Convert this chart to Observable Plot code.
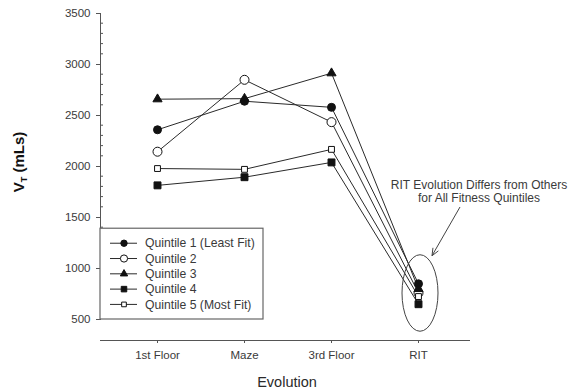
<!DOCTYPE html>
<html>
<head>
<meta charset="utf-8">
<script src="https://cdn.jsdelivr.net/npm/d3@7"></script>
<script src="https://cdn.jsdelivr.net/npm/@observablehq/plot@0.6"></script>
<style>
  html, body { margin: 0; padding: 0; background: #fff; }
  #chart svg { display: block; }
</style>
</head>
<body>
<div id="chart"></div>
<script>
// Tidal volume across the four stages of the evolution, by fitness quintile
const stages = ["1st Floor", "Maze", "3rd Floor", "RIT"];
const quintile1 = [2360, 2640, 2580, 850];
const quintile2 = [2145, 2850, 2435, 760];
const quintile3 = [2660, 2665, 2915, 800];
const quintile4 = [1815, 1895, 2040, 650];
const quintile5 = [1980, 1972, 2168, 725];

const seriesNames = [
  "Quintile 1 (Least Fit)",
  "Quintile 2",
  "Quintile 3",
  "Quintile 4",
  "Quintile 5 (Most Fit)"
];
const yMajorTicks = [500, 1000, 1500, 2000, 2500, 3000, 3500];
const yMinorTicks = d3.range(600, 3500, 100).filter(v => v % 500 !== 0);

const annotationLines = ["RIT Evolution Differs from Others", "for All Fitness Quintiles"];

// marker styling for each quintile
const markers = [
  {symbol: "circle",   fill: "#111", r: 4},
  {symbol: "circle",   fill: "#fff", r: 4.5},
  {symbol: "triangle", fill: "#111", r: 3.4},
  {symbol: "square",   fill: "#111", r: 3.9},
  {symbol: "square",   fill: "#fff", r: 3.3}
];

const seriesValues = [quintile1, quintile2, quintile3, quintile4, quintile5];
const series = seriesValues.map((vals, k) => ({
  name: seriesNames[k],
  style: markers[k],
  rows: stages.map((s, i) => ({stage: s, value: vals[i]}))
}));

const ink = "#3a3a3a";
const axisInk = "#555";
const font = "'Liberation Sans', Arial, Helvetica, sans-serif";

const plot = Plot.plot({
  width: 570,
  height: 392,
  marginLeft: 100,
  marginRight: 100,
  marginTop: 13,
  marginBottom: 73,
  style: {fontFamily: font, fontSize: "11.5px", color: ink, background: "#fff"},
  x: {type: "point", domain: stages, padding: 0.62, align: 0.52},
  y: {domain: [500, 3500]},
  marks: [
    Plot.frame({anchor: "left", stroke: axisInk}),
    Plot.axisY({ticks: yMajorTicks, tickSize: 4, tickPadding: 6, tickFormat: d3.format("d"), label: null, stroke: axisInk}),
    Plot.ruleY([500], {dy: 21, stroke: axisInk}),
    Plot.axisX({anchor: "bottom", dy: 21, tickSize: 3, tickPadding: 7, label: null, stroke: axisInk}),
    ...series.map(s => Plot.line(s.rows, {x: "stage", y: "value", stroke: "#2a2a2a", strokeWidth: 1})),
    ...series.map(s => Plot.dot(s.rows, {
      x: "stage", y: "value",
      symbol: s.style.symbol, r: s.style.r,
      fill: s.style.fill, stroke: "#111", strokeWidth: 1
    }))
  ]
});

document.getElementById("chart").appendChild(plot);

const svg = d3.select(plot);
const xs = plot.scale("x");
const ys = plot.scale("y");
const [x0, x1] = xs.range;

// minor y ticks, pointing into the plot
svg.append("g")
  .attr("stroke", axisInk)
  .selectAll("line")
  .data(yMinorTicks)
  .join("line")
  .attr("x1", x0).attr("x2", x0 + 3)
  .attr("y1", d => ys.apply(d)).attr("y2", d => ys.apply(d));

// y-axis title with subscript
const yTitle = svg.append("text")
  .attr("transform", `translate(24, ${ys.apply(2000) - 4}) rotate(-90)`)
  .attr("text-anchor", "middle")
  .attr("font-family", font)
  .attr("font-weight", "bold")
  .attr("font-size", 15)
  .attr("fill", "#111");
yTitle.append("tspan").text("V");
yTitle.append("tspan").attr("font-size", 9).attr("dy", 3).text("T");
yTitle.append("tspan").attr("dy", -3).text(" (mLs)");

// x-axis title
svg.append("text")
  .attr("x", (x0 + x1) / 2 + 2)
  .attr("y", ys.apply(500) + 68)
  .attr("text-anchor", "middle")
  .attr("font-family", font)
  .attr("font-size", 14.5)
  .attr("fill", "#2a2a2a")
  .text("Evolution");

// legend box in the lower-left corner of the plotting area
const legendX = x0, legendTop = ys.apply(1390);
const legendW = 163, rowH = 15.3;
const legend = svg.append("g")
  .attr("font-family", font).attr("font-size", 12.2)
  .attr("text-anchor", "start");
legend.append("rect")
  .attr("x", legendX).attr("y", legendTop)
  .attr("width", legendW).attr("height", ys.apply(500) - legendTop)
  .attr("fill", "#fff").attr("stroke", "#666").attr("stroke-width", 1.2);
series.forEach((s, k) => {
  const cy = legendTop + 15 + k * rowH;
  legend.append("line")
    .attr("x1", legendX + 10).attr("x2", legendX + 37)
    .attr("y1", cy).attr("y2", cy)
    .attr("stroke", "#2a2a2a");
  const sym = {circle: d3.symbolCircle, triangle: d3.symbolTriangle, square: d3.symbolSquare}[s.style.symbol];
  const rr = s.style.r * 0.8;
  legend.append("path")
    .attr("transform", `translate(${legendX + 24},${cy})`)
    .attr("d", d3.symbol(sym, Math.PI * rr * rr)())
    .attr("fill", s.style.fill).attr("stroke", "#111");
  legend.append("text")
    .attr("x", legendX + 45).attr("y", cy).attr("dy", "0.35em")
    .attr("fill", ink)
    .text(s.name);
});

// ellipse around the RIT points and its callout
const cx = xs.apply("RIT") + 2;
const cy = ys.apply(755);
const ry = Math.abs(ys.apply(755 + 375) - cy);
svg.append("ellipse")
  .attr("cx", cx).attr("cy", cy)
  .attr("rx", 18).attr("ry", ry)
  .attr("fill", "none").attr("stroke", "#444").attr("stroke-width", 1);

const note = svg.append("text")
  .attr("font-family", font).attr("font-size", 12)
  .attr("fill", ink).attr("text-anchor", "middle");
annotationLines.forEach((t, i) => {
  note.append("tspan").attr("x", cx + 59).attr("y", cy - 104 + i * 13.5).text(t);
});

const ax0 = cx + 40, ay0 = cy - 86, ax1 = cx + 12, ay1 = cy - ry + 1;
svg.append("line")
  .attr("x1", ax0).attr("y1", ay0).attr("x2", ax1).attr("y2", ay1)
  .attr("stroke", "#444");
const ang = Math.atan2(ay1 - ay0, ax1 - ax0);
const head = 8, spread = 0.4;
svg.append("path")
  .attr("d", `M${ax1 - head * Math.cos(ang - spread)},${ay1 - head * Math.sin(ang - spread)}L${ax1},${ay1}L${ax1 - head * Math.cos(ang + spread)},${ay1 - head * Math.sin(ang + spread)}`)
  .attr("fill", "none").attr("stroke", "#444");
</script>
</body>
</html>
